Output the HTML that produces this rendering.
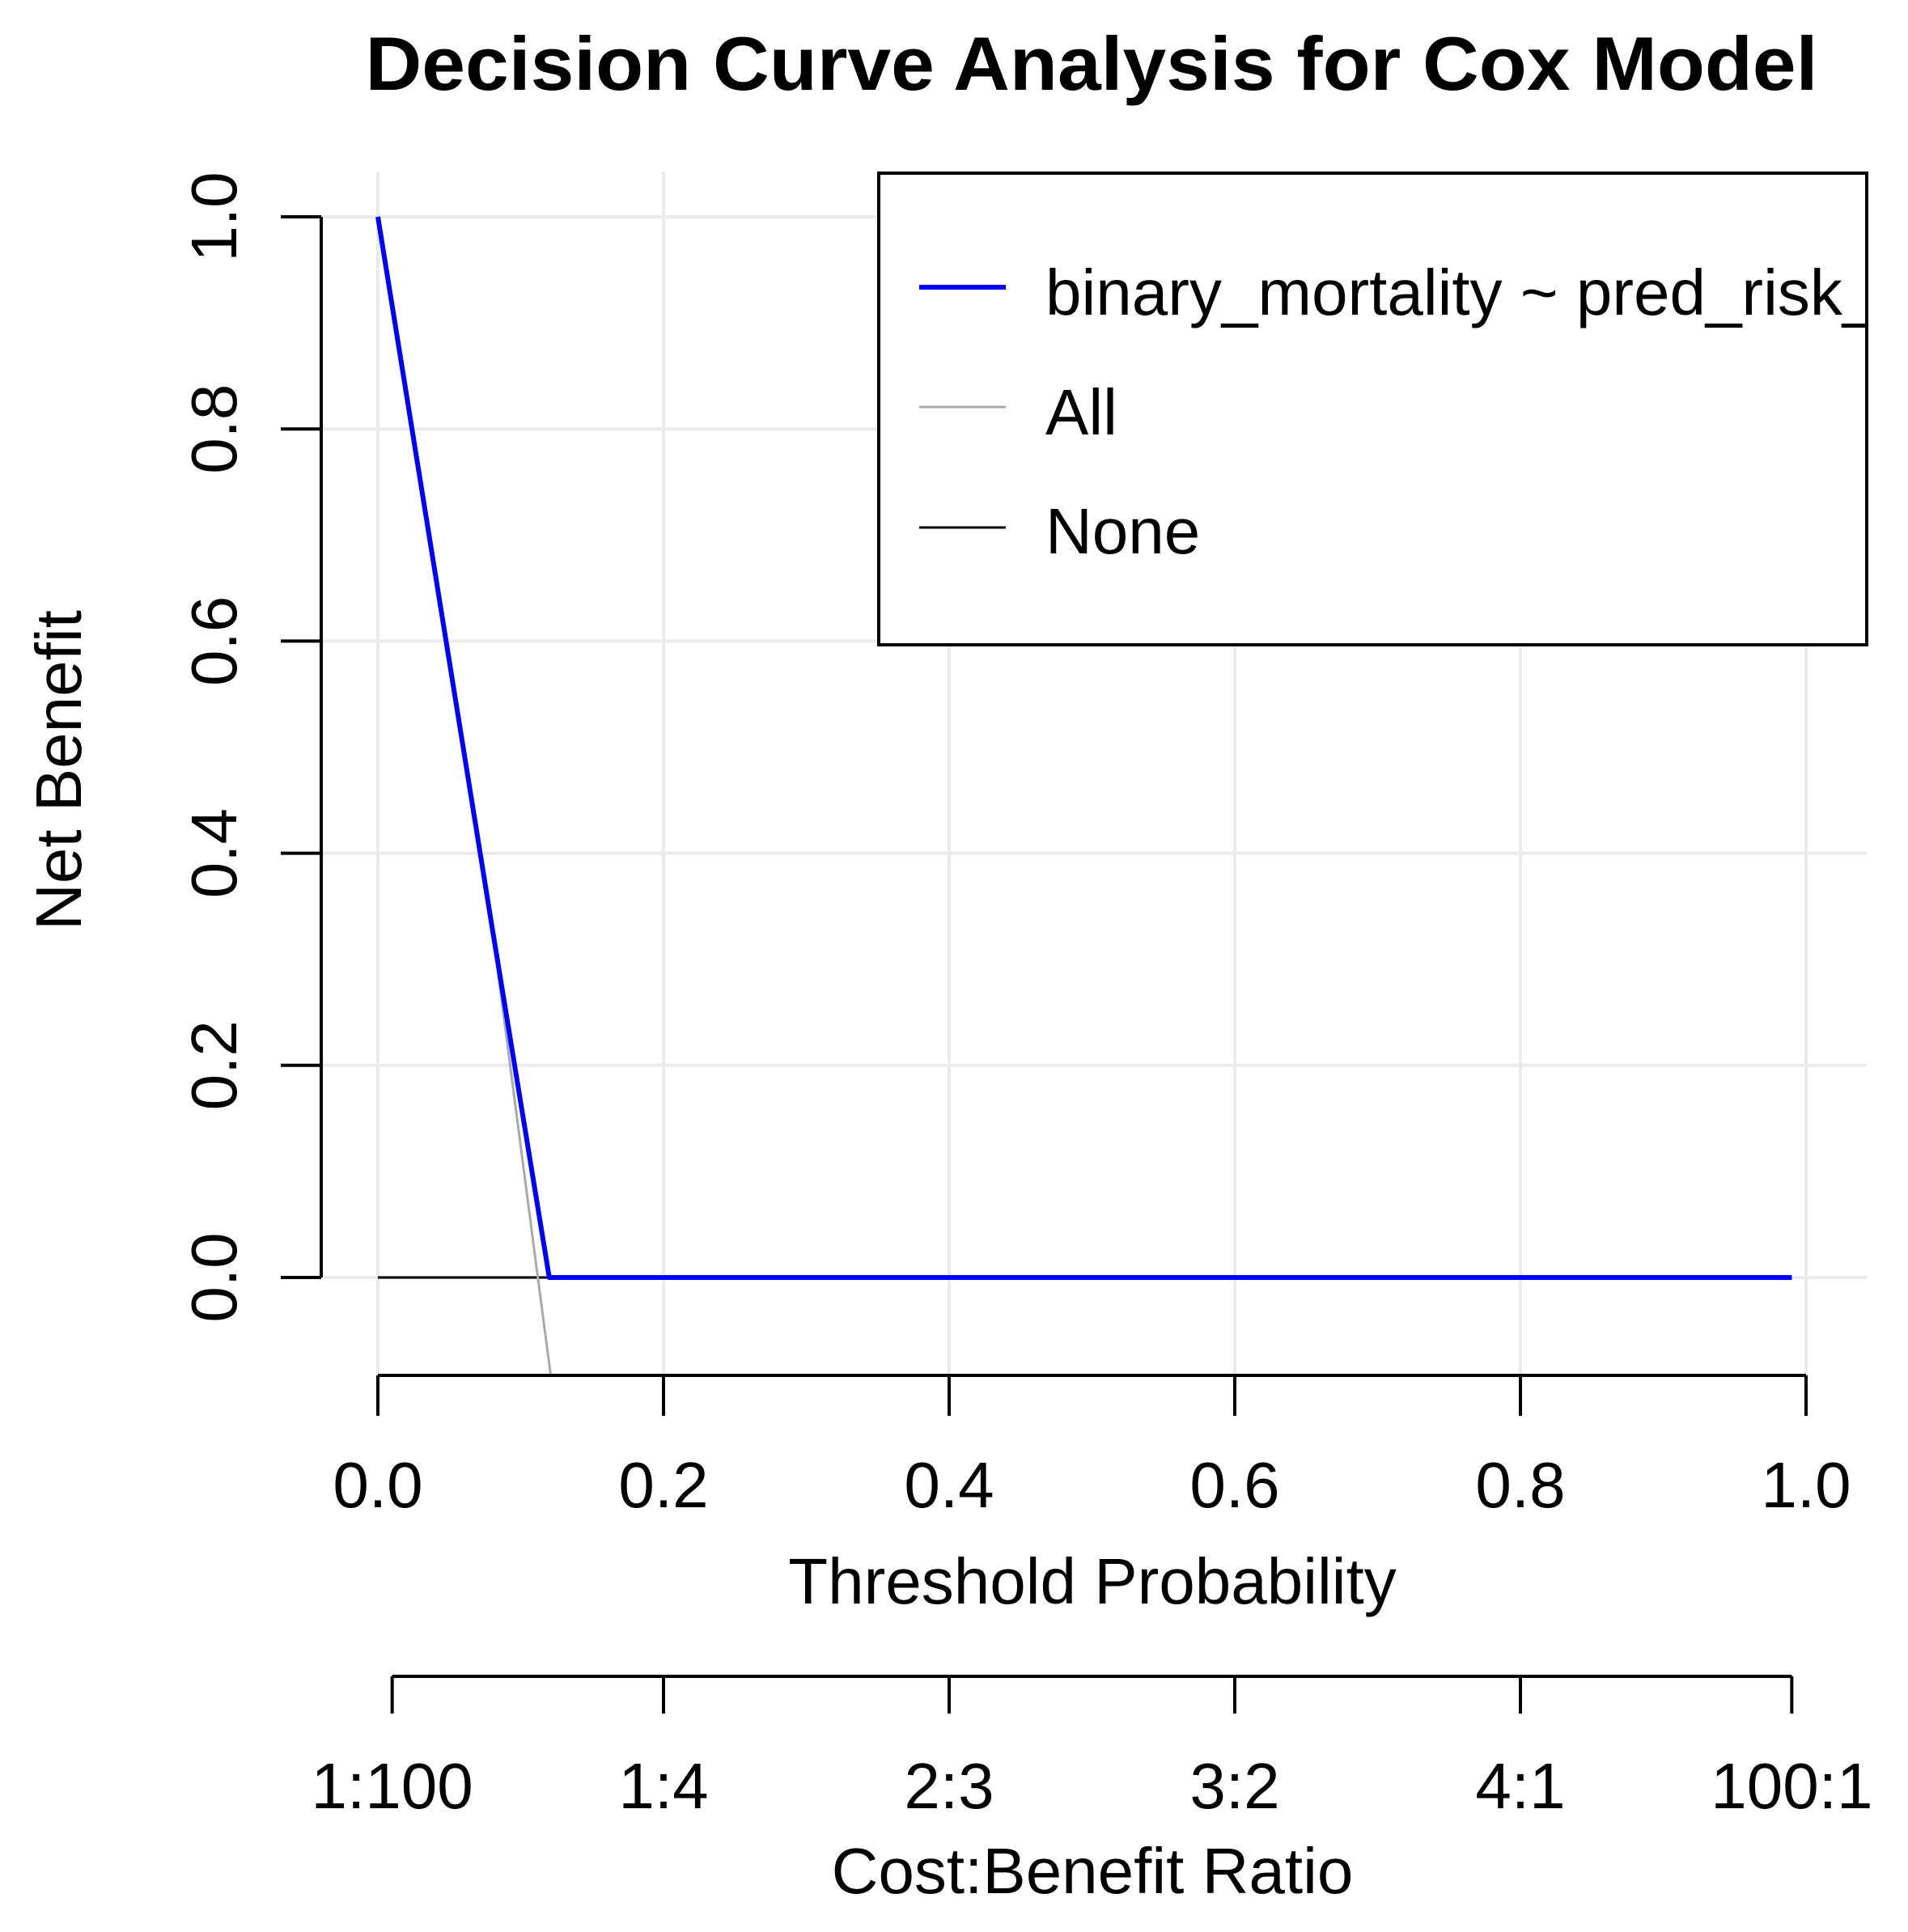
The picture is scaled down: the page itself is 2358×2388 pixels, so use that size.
<!DOCTYPE html>
<html><head><meta charset="utf-8"><style>html,body{margin:0;padding:0;background:#fff}svg{display:block}text{font-family:"Liberation Sans",Arial,sans-serif}</style></head>
<body>
<svg id="chart" width="2358" height="2388" viewBox="0 0 2358 2388" xmlns="http://www.w3.org/2000/svg">
<defs><clipPath id="legclip"><rect x="1086" y="214" width="1219" height="583"/></clipPath></defs>
<rect x="0" y="0" width="2358" height="2388" fill="#fff"/>
<text x="1349" y="111" font-size="94" font-weight="bold" text-anchor="middle" textLength="1795" lengthAdjust="spacingAndGlyphs">Decision Curve Analysis for Cox Model</text>
<g id="grid"></g>
<g id="series"></g>
<g id="axes"></g>
<g>
<rect x="1086" y="214" width="1221" height="583" fill="#fff" stroke="#000" stroke-width="4"/>
<line x1="1136" y1="355" x2="1243" y2="355" stroke="#0000ff" stroke-width="6"/>
<text x="1292" y="389" font-size="80" clip-path="url(#legclip)">binary_mortality ~ pred_risk_</text>
<line x1="1136" y1="503" x2="1243" y2="503" stroke="#aaaaaa" stroke-width="3"/>
<text x="1292" y="537" font-size="80">All</text>
<line x1="1136" y1="652" x2="1243" y2="652" stroke="#000" stroke-width="3"/>
<text x="1292" y="684" font-size="80">None</text>
</g>
<text x="0" y="0" font-size="80" text-anchor="middle" transform="translate(100,952) rotate(-90)">Net Benefit</text>
<text x="1350" y="1982" font-size="80" text-anchor="middle">Threshold Probability</text>
<text x="1350" y="2340" font-size="80" text-anchor="middle">Cost:Benefit Ratio</text>
</svg>
<script>
const xTicks = [0, 0.2, 0.4, 0.6, 0.8, 1.0];
const xTickLabels = ["0.0", "0.2", "0.4", "0.6", "0.8", "1.0"];
const yTicks = [0, 0.2, 0.4, 0.6, 0.8, 1.0];
const yTickLabels = ["0.0", "0.2", "0.4", "0.6", "0.8", "1.0"];
const ratioTicks = [0.01, 0.2, 0.4, 0.6, 0.8, 0.99];
const ratioLabels = ["1:100", "1:4", "2:3", "3:2", "4:1", "100:1"];
const modelT = [0, 0.08, 0.12, 0.99];
const modelNB = [1.0, 0.33, 0.0, 0.0];
const allT = [0, 0.08, 0.112, 0.121];
const allNB = [1.0, 0.33, 0.0, -0.092];
const noneT = [0, 0.99];
const noneNB = [0, 0];

const NS = "http://www.w3.org/2000/svg";
const X0 = 467, X1 = 2232, Y0 = 1579, Y1 = 268;
function sx(v){ return X0 + (X1 - X0) * v; }
function sy(v){ return Y0 - (Y0 - Y1) * v; }
function mk(parent, tag, attrs){ const e = document.createElementNS(NS, tag); for (const k in attrs) e.setAttribute(k, attrs[k]); parent.appendChild(e); return e; }
const grid = document.getElementById('grid');
const series = document.getElementById('series');
const axes = document.getElementById('axes');

xTicks.forEach((t, i) => {
  const g = mk(grid, 'line', {x1: sx(t), x2: sx(t), y1: 212, y2: 1700, stroke: '#ebebeb', 'stroke-width': 4});
  
  
});
yTicks.forEach((t, i) => {
  const g = mk(grid, 'line', {x1: 397, x2: 2307, y1: sy(t), y2: sy(t), stroke: '#ebebeb', 'stroke-width': 4});
  
  
});

function poly(ts, vs, color, w, name){
  const pts = ts.map((t, i) => sx(t) + ',' + sy(vs[i])).join(' ');
  const p = mk(series, 'polyline', {points: pts, fill: 'none', stroke: color, 'stroke-width': w, 'stroke-linejoin': 'round'});
  
  
}
poly(noneT, noneNB, '#000', 3, 'none-line');
poly(allT, allNB, '#aaaaaa', 3, 'all-line');
poly(modelT, modelNB, '#0000ff', 6, 'model-line');

let a = mk(axes, 'line', {x1: 397, x2: 397, y1: sy(yTicks[0]), y2: sy(yTicks[yTicks.length-1]), stroke: '#000', 'stroke-width': 4});


yTicks.forEach((t, i) => {
  const l = mk(axes, 'line', {x1: 347, x2: 397, y1: sy(t), y2: sy(t), stroke: '#000', 'stroke-width': 4});
  
  
  const tx = mk(axes, 'text', {x: 0, y: 0, 'font-size': 80, 'text-anchor': 'middle', transform: 'translate(292,' + sy(t) + ') rotate(-90)'});
  tx.textContent = yTickLabels[i];
  
  
});
a = mk(axes, 'line', {x1: sx(xTicks[0]), x2: sx(xTicks[xTicks.length-1]), y1: 1700, y2: 1700, stroke: '#000', 'stroke-width': 4});


xTicks.forEach((t, i) => {
  const l = mk(axes, 'line', {x1: sx(t), x2: sx(t), y1: 1700, y2: 1750, stroke: '#000', 'stroke-width': 4});
  
  
  const tx = mk(axes, 'text', {x: sx(t), y: 1863, 'font-size': 80, 'text-anchor': 'middle'});
  tx.textContent = xTickLabels[i];
  
  
});
a = mk(axes, 'line', {x1: sx(ratioTicks[0]), x2: sx(ratioTicks[ratioTicks.length-1]), y1: 2072, y2: 2072, stroke: '#000', 'stroke-width': 4});


ratioTicks.forEach((t, i) => {
  const l = mk(axes, 'line', {x1: sx(t), x2: sx(t), y1: 2072, y2: 2118, stroke: '#000', 'stroke-width': 4});
  
  
  const tx = mk(axes, 'text', {x: sx(t), y: 2235, 'font-size': 80, 'text-anchor': 'middle'});
  tx.textContent = ratioLabels[i];
  
  
});
</script>
</body></html>
